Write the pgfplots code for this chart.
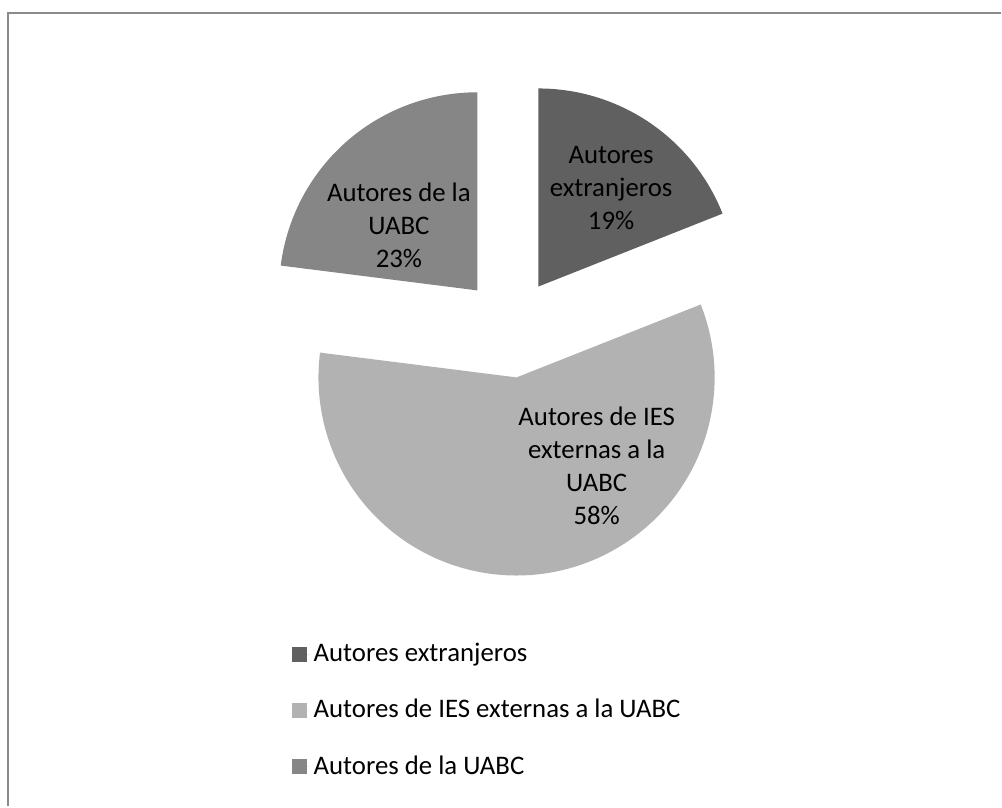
\documentclass[border=0pt]{standalone}
\usepackage{pgfplots}
\usepackage{pgfplotstable}
\usepackage{fontspec}
\setmainfont{Carlito}
\pgfplotsset{compat=1.18}
\definecolor{extc}{HTML}{606060}
\definecolor{iesc}{HTML}{B2B2B2}
\definecolor{uabcc}{HTML}{868686}
\definecolor{bordc}{HTML}{8A8A8A}

\pgfplotstableread{
idx value
1 19
2 58
3 23
}\piedata

\begin{document}%
\begin{tikzpicture}
\pgfplotstablegetelem{0}{value}\of\piedata \let\va\pgfplotsretval
\pgfplotstablegetelem{1}{value}\of\piedata \let\vb\pgfplotsretval
\pgfplotstablegetelem{2}{value}\of\piedata \let\vc\pgfplotsretval
% geometry (pixel units, y up)
\def\cx{510.8}\def\cy{478.8}\def\rr{198.3}\def\dd{50}
\pgfmathsetmacro\aA{90}
\pgfmathsetmacro\aB{\aA-3.6*\va}
\pgfmathsetmacro\aC{\aB-3.6*\vb}
\pgfmathsetmacro\aD{\aC-3.6*\vc}
\pgfmathsetmacro\mA{(\aA+\aB)/2}
\pgfmathsetmacro\mB{(\aB+\aC)/2}
\pgfmathsetmacro\mC{(\aC+\aD)/2}
\pgfmathsetmacro\xA{\cx+\dd*cos(\mA)}\pgfmathsetmacro\yA{\cy+\dd*sin(\mA)}
\pgfmathsetmacro\xB{\cx+\dd*cos(\mB)}\pgfmathsetmacro\yB{\cy+\dd*sin(\mB)}
\pgfmathsetmacro\xC{\cx+\dd*cos(\mC)}\pgfmathsetmacro\yC{\cy+\dd*sin(\mC)}
\begin{axis}[
  x=0.5pt, y=0.5pt,
  xmin=0, xmax=1002, ymin=0, ymax=807,
  hide axis, clip=false,
  area legend,
  legend image code/.code={\fill[#1] (0pt,-3.75pt) rectangle (7.5pt,3.75pt); \path (0pt,0pt) -- (9pt,0pt);},
  legend style={at={(axis cs:292.5,166.5)}, anchor=north west, draw=none, fill=none,
    font=\fontsize{13.4pt}{16.5pt}\selectfont, row sep=13.8pt,
    inner sep=0pt, outer sep=0pt,
    nodes={inner sep=1.75pt}},
  legend cell align=left,
]
\path (axis cs:0,0) rectangle (axis cs:1002,807);
\draw[bordc, line width=1pt] (axis cs:8.5,0) -- (axis cs:8.5,793.5) -- (axis cs:1002,793.5);
\addplot[fill=extc, draw=none, domain=\aB:\aA, samples=80, variable=\t]
  ({\xA+\rr*cos(\t)}, {\yA+\rr*sin(\t)}) -- (axis cs:\xA,\yA) -- cycle;
\addlegendentry{Autores extranjeros}
\addplot[fill=iesc, draw=none, domain=\aC:\aB, samples=160, variable=\t]
  ({\xB+\rr*cos(\t)}, {\yB+\rr*sin(\t)}) -- (axis cs:\xB,\yB) -- cycle;
\addlegendentry{Autores de IES externas a la UABC}
\addplot[fill=uabcc, draw=none, domain=\aD:\aC, samples=80, variable=\t]
  ({\xC+\rr*cos(\t)}, {\yC+\rr*sin(\t)}) -- (axis cs:\xC,\yC) -- cycle;
\addlegendentry{Autores de la UABC}
\node[align=center, font=\fontsize{13.4pt}{16.5pt}\selectfont] at (axis cs:611.7,619) {Autores\\extranjeros\\19\%};
\node[align=center, font=\fontsize{13.4pt}{16.5pt}\selectfont] at (axis cs:399.3,581.3) {Autores de la\\UABC\\23\%};
\node[align=center, font=\fontsize{13.4pt}{16.5pt}\selectfont] at (axis cs:597.3,340.3) {Autores de IES\\externas a la\\UABC\\58\%};
\end{axis}
\end{tikzpicture}%
\end{document}
